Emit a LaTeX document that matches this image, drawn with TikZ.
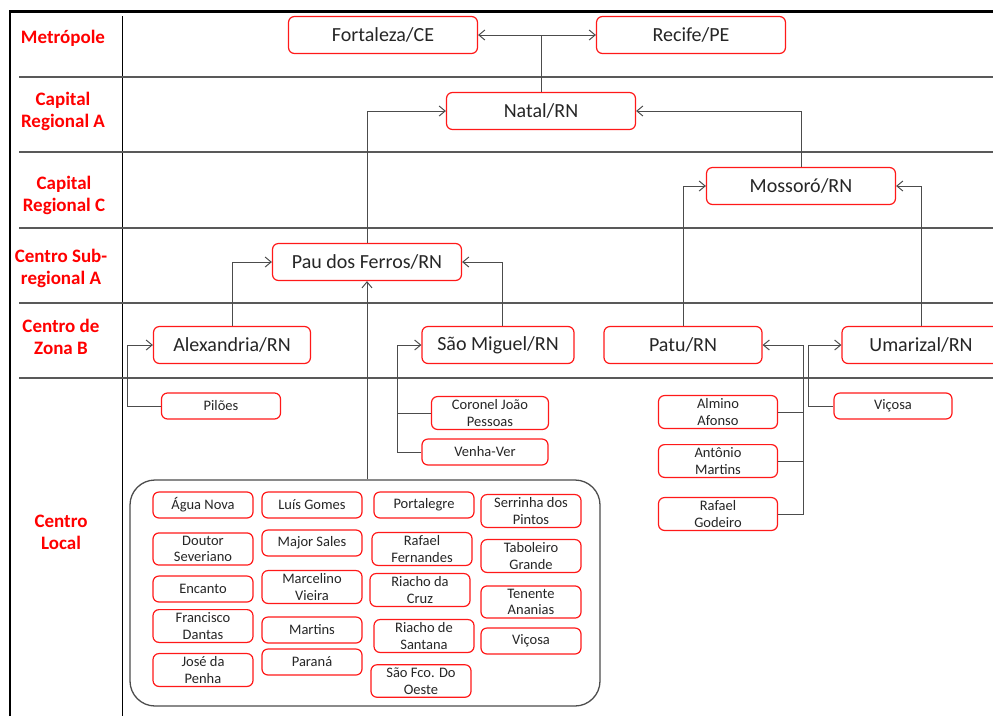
\documentclass[tikz,border=0pt]{standalone}
\usepackage{fontspec}
\setmainfont{Carlito}
\usetikzlibrary{positioning}
\usetikzlibrary{arrows.meta}

\begin{document}
\begin{tikzpicture}[x=1pt,y=-1pt,
% Boxes style
    city/.style={rectangle,draw=red!90,line width=1.2pt,fill=white,rounded corners=6pt,
		minimum width=189pt,minimum height=37pt,inner sep=2pt,
		text=black!85,font=\fontsize{20}{24}\selectfont},
    town/.style={rectangle,draw=red!90,line width=1.2pt,fill=white,rounded corners=6pt,
		minimum width=100pt,minimum height=26pt,inner ysep=3pt,inner xsep=2pt,
		align=center,text=black!85,font=\fontsize{14.5}{16.7}\selectfont},
% Label style
    rank/.style={text=red,align=center,font=\bfseries\fontsize{19}{22}\selectfont},
% Lines style
    band/.style={draw=black!65,line width=1.3pt},
    link/.style={draw=black!70,line width=1pt,->},
    >={Straight Barb[length=6pt,width=10pt]}
    ]
  \tikzstyle{surround} = [draw=black!70,line width=1.3pt,rounded corners=25pt]

  \useasboundingbox (0,0) rectangle (993,716);
  % frame and rows
  \draw[line width=2.5pt] (10,716) -- (10,11.5) -- (993,11.5);
  \draw[line width=1pt] (122,16) -- (122,716);
  \foreach \y in {77,152,228,303,378}
    \draw[band] (19,\y) -- (993,\y);

  \node[rank] (r1) at (63,38) {Metrópole};
  \node[rank] (r2) at (63,111) {Capital\\Regional A};
  \node[rank] (r3) at (64,195) {Capital\\Regional C};
  \node[rank] (r4) at (61,268) {Centro Sub-\\regional A};
  \node[rank] (r5) at (61,337) {Centro de\\Zona B};
  \node[rank] (r6) at (61,532) {Centro\\Local};

  \node[city] (fort) at (383,35) {Fortaleza/CE};
  \node[city] (rec) at (691,35) {Recife/PE};
  \node[city] (natal) at (541,111) {Natal/RN};
  \node[city] (moss) at (801,186) {Mossoró/RN};
  \node[city] (pau) at (367,262) {Pau dos Ferros/RN};
  \node[city,minimum width=157pt] (alex) at (232,345) {Alexandria/RN};
  \node[city,minimum width=152pt] (smig) at (498,345) {São Miguel/RN};
  \node[city,minimum width=158pt] (patu) at (683,345) {Patu/RN};
  \node[city,minimum width=158pt] (umar) at (921,345) {Umarizal/RN};

  \node[town,minimum width=119pt] (pil) at (221,406) {Pilões};
  \node[town,minimum width=117pt] (cjp) at (490,413) {Coronel João\\Pessoas};
  \node[town,minimum width=126pt] (vv) at (485,452) {Venha-Ver};
  \node[town,minimum width=119pt] (alm) at (718,412) {Almino\\Afonso};
  \node[town,minimum width=119pt] (ant) at (718,461) {Antônio\\Martins};
  \node[town,minimum width=119pt] (rgod) at (718,514) {Rafael\\Godeiro};
  \node[town,minimum width=118pt] (vic) at (893,406) {Viçosa};

  % centros locais
  \node[surround,minimum width=470pt,minimum height=226pt] (loc) at (365,593) {};
  \foreach \n/\x/\y/\t in {agua/203/505/{Água Nova},dsev/203/549/{Doutor\\Severiano},
      enc/203/589/{Encanto},fdan/203/626/{Francisco\\Dantas},jpen/203/670/{José da\\Penha},
      lgom/312/505/{Luís Gomes},msal/312/543/{Major Sales},mvie/312/587/{Marcelino\\Vieira},
      mart/312/630/{Martins},para/312/662/{Paraná},
      port/424/505/{Portalegre},rfer/422/549/{Rafael\\Fernandes},rcru/420/590/{Riacho da\\Cruz},
      rsan/424/636/{Riacho de\\Santana},sfco/421/681/{São Fco. Do\\Oeste},
      serr/531/511/{Serrinha dos\\Pintos},tab/531/556/{Taboleiro\\Grande},
      ten/531/602/{Tenente\\Ananias},vic2/531/641/{Viçosa}}
    \node[town] (\n) at (\x,\y) {\t};

  % connectors
  \draw[link,<->] (fort) -- (rec);
  \draw[link,-] (natal.north) -- (natal.north |- fort.east);
  \draw[link] (pau.north) |- (natal.west);
  \draw[link] (moss.north) |- (natal.east);
  \draw[link] (alex.north) |- (pau.west);
  \draw[link] ([xshift=4pt]smig.north) |- (pau.east);
  \draw[link] (loc.north -| pau.south) -- (pau.south);
  \draw[link] (patu.north) |- (moss.west);
  \draw[link] (umar.north) |- (moss.east);
  \draw[link] (pil.west) -| ([xshift=-25pt]alex.west) -- (alex.west);
  \draw[link,-] (vv.west) -| ([xshift=-24pt]smig.west);
  \draw[link] (cjp.west) -| ([xshift=-24pt]smig.west) -- (smig.west);
  \draw[link,-] (alm.east) -| ([xshift=41pt]patu.east);
  \draw[link,-] (ant.east) -| ([xshift=41pt]patu.east);
  \draw[link] (rgod.east) -| ([xshift=41pt]patu.east) -- (patu.east);
  \draw[link] (vic.west) -| ([xshift=-33pt]umar.west) -- (umar.west);

\end{tikzpicture}
\end{document}
